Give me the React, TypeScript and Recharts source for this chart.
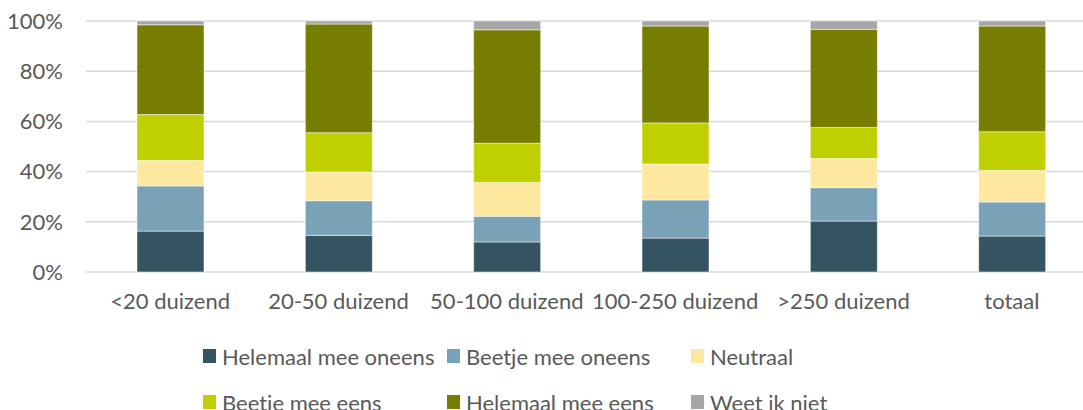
import { BarChart, Bar, XAxis, YAxis, CartesianGrid, Legend } from "recharts"

// Gemeentegrootte (inwoners)
const categories = ["<20 duizend", "20-50 duizend", "50-100 duizend", "100-250 duizend", ">250 duizend", "totaal"]

// aandeel per antwoord, in procenten
const helemaalOneens = [16.3, 14.6, 12.0, 13.5, 20.3, 14.3]
const beetjeOneens = [18.0, 13.8, 10.2, 15.2, 13.3, 13.6]
const neutraal = [10.1, 11.4, 13.5, 14.3, 11.6, 12.5]
const beetjeEens = [18.3, 15.7, 15.6, 16.4, 12.4, 15.5]
const helemaalEens = [35.8, 43.3, 45.2, 38.6, 39.1, 42.1]
const weetNiet = [1.5, 1.2, 3.5, 2.0, 3.3, 2.0]

const yTicks = [0, 20, 40, 60, 80, 100]

const series = [
  { key: "ho", name: "Helemaal mee oneens", values: helemaalOneens, color: "#345462" },
  { key: "bo", name: "Beetje mee oneens", values: beetjeOneens, color: "#79a2b6" },
  { key: "ne", name: "Neutraal", values: neutraal, color: "#fee79f" },
  { key: "be", name: "Beetje mee eens", values: beetjeEens, color: "#bfcf00" },
  { key: "he", name: "Helemaal mee eens", values: helemaalEens, color: "#767d00" },
  { key: "wn", name: "Weet ik niet", values: weetNiet, color: "#a6a6a6" },
]

const chartData = categories.map((cat, i) => {
  const row: any = { name: cat }
  series.forEach((s) => {
    row[s.key] = s.values[i]
  })
  return row
})

const textColor = "#595959"
const font = "Lato"

// legenda in de volgorde van de reeksen (payload wordt anders alfabetisch gesorteerd)
function LegendBlock() {
  return (
    <div style={{ height: 104, paddingLeft: 203, paddingTop: 17, boxSizing: "border-box", display: "flex", flexWrap: "wrap", fontFamily: font }}>
      {series.map((s) => (
        <div key={s.key} style={{ width: 244, height: 46, display: "flex", alignItems: "center" }}>
          <span style={{ width: 13, height: 14, background: s.color, display: "inline-block", marginRight: 6 }} />
          <span style={{ fontSize: 22, color: textColor, whiteSpace: "nowrap" }}>{s.name}</span>
        </div>
      ))}
    </div>
  )
}

export default function App() {
  return (
    <div style={{ position: "absolute", left: 0, top: 0, width: 1083, height: 410, overflow: "hidden", background: "#fff" }}>
      <BarChart
        width={1100}
        height={420}
        data={chartData}
        barSize={67}
        margin={{ top: 21, right: 4, left: 0, bottom: 0 }}
      >
        <CartesianGrid vertical={false} stroke="#d9d9d9" strokeWidth={1.5} />
        <XAxis
          dataKey="name"
          axisLine={false}
          tickLine={false}
          height={44}
          tickMargin={15}
          interval={0}
          tick={{ fill: textColor, fontSize: 22, fontFamily: font }}
        />
        <YAxis
          width={86}
          domain={[0, 100]}
          ticks={yTicks}
          axisLine={false}
          tickLine={false}
          tickMargin={17}
          tickFormatter={(v) => `${v}%`}
          tick={{ fill: textColor, fontSize: 22, fontFamily: font }}
        />
        <Legend verticalAlign="bottom" height={104} wrapperStyle={{ left: 0, width: 1100 }} content={<LegendBlock />} />
        {series.map((s) => (
          <Bar
            key={s.key}
            dataKey={s.key}
            name={s.name}
            stackId="a"
            fill={s.color}
            stroke="#ffffff"
            strokeWidth={0.5}
            isAnimationActive={false}
          />
        ))}
      </BarChart>
    </div>
  )
}
